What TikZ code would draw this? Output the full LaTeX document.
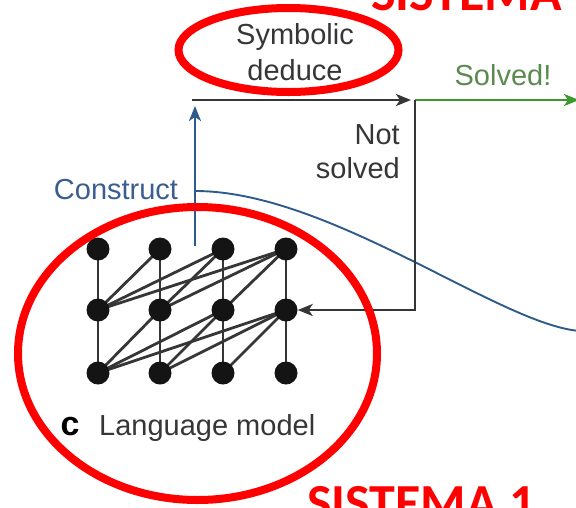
\documentclass[tikz,border=0pt]{standalone}
\usepackage{fontspec}
\setmainfont{Liberation Sans}
\newfontfamily\calib{Carlito}
\usetikzlibrary{arrows.meta}
\definecolor{inkgray}{HTML}{363636}
\definecolor{inkblue}{HTML}{2E5B8A}
\definecolor{txtblue}{HTML}{3A5F8F}
\definecolor{inkgreen}{HTML}{3C9A2C}
\definecolor{txtgreen}{HTML}{5B8A50}
\definecolor{markred}{HTML}{FF0000}
\tikzset{
  lbl/.style={font=\fontsize{29}{33}\selectfont, inner sep=0pt, text=inkgray},
  dot/.style={circle, fill=black!92, inner sep=0pt, minimum size=23pt},
  net/.style={draw=inkgray, line width=2.8pt},
  flow/.style={draw=inkgray, line width=2.6pt},
  tip/.style={-{Stealth[length=15pt, width=12pt, inset=4pt]}},
  ring/.style={draw=markred, line width=8pt},
  sys/.style={font=\fontsize{52}{52}\selectfont\calib\bfseries, text=markred, inner sep=0pt}
}
\begin{document}
\begin{tikzpicture}[x=1pt, y=-1pt]
\useasboundingbox (0,0) rectangle (576,507);
\clip (0,0) rectangle (576,507);

% language model: 4 columns x 3 layers
\foreach \c/\x in {1/98, 2/160, 3/223, 4/286} {
  \foreach \r/\y in {1/249, 2/310, 3/373} {
    \coordinate (p\c\r) at (\x,\y);
  }
}
% causal connections between layers
\foreach \c in {1,...,4} {
  \draw[net] (p\c1) -- (p\c3);
}
\foreach \j in {2,3,4} {
  \pgfmathtruncatemacro{\last}{\j-1}
  \foreach \i in {1,...,\last} {
    \draw[net] (p\j1) -- (p\i2);
    \draw[net] (p\j2) -- (p\i3);
  }
}
\foreach \c in {1,...,4} {
  \foreach \r in {1,2,3} {
    \node[dot] (n\c\r) at (p\c\r) {};
  }
}

% labels
\node[lbl] (sym) at (295,37) {Symbolic};
\node[lbl] (ded) at (295,70) {deduce};
\node[lbl, text=txtgreen] (solved) at (503,75) {Solved!};
\node[lbl, anchor=east] (nots1) at (400,135) {Not};
\node[lbl, anchor=east] (nots2) at (400,168) {solved};
\node[lbl, text=txtblue] (construct) at (116,190) {Construct};
\node[font=\fontsize{34}{34}\selectfont\bfseries, inner sep=0pt, text=black] (clabel) at (70,427) {c};
\node[lbl, anchor=west] (lm) at (99,428) {Language model};

% symbolic loop
\coordinate (lmtop) at (195,246);
\coordinate (symin) at (195,106);
\coordinate (dstart) at (192,100);
\coordinate (split) at (415,100);
\coordinate (out) at (579,100);
\coordinate (cstart) at (195,191);
\coordinate (cend) at (580,331);

\draw[draw=inkblue, line width=2pt, tip] (lmtop) -- (symin);
\draw[draw=inkblue, line width=1.9pt] (cstart) .. controls (330,191) and (500,325) .. (cend);
\draw[flow, tip] (dstart) -- ([xshift=-4pt]split);
\draw[draw=inkgreen, line width=2.4pt, tip] (split) -- (out);
\draw[flow, tip] (split) |- (n42);

% highlight marks
\draw[ring] (288.5,50) ellipse [x radius=110, y radius=42];
\draw[ring] (197.5,353.5) ellipse [x radius=179.5, y radius=146.5];
\node[sys, anchor=base west] (sys2) at (371,10) {SISTEMA};
\node[sys, anchor=base west] (sys1) at (307,520) {SISTEMA 1};
\end{tikzpicture}
\end{document}
